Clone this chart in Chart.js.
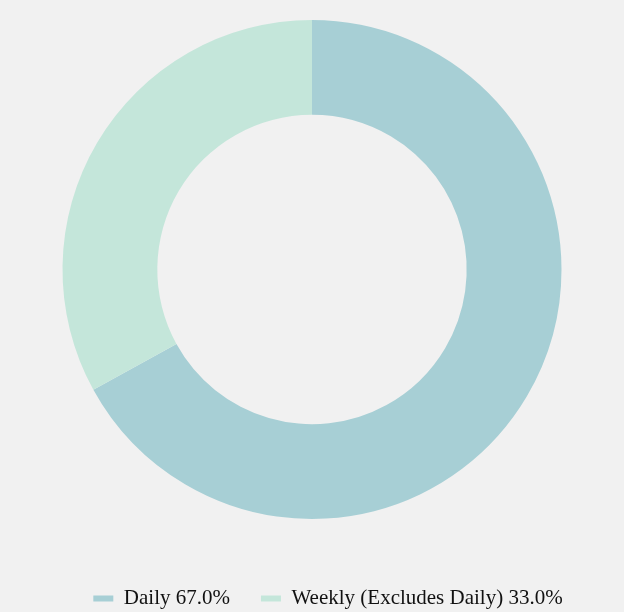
<!DOCTYPE html>
<html>
<head>
<meta charset="utf-8">
<script src="https://cdn.jsdelivr.net/npm/chart.js@4"></script>
<style>
  html, body { margin: 0; padding: 0; background: #f1f1f1; }
  #wrap { width: 624px; height: 612px; }
</style>
</head>
<body>
<div id="wrap"><canvas id="frequencyChart"></canvas></div>
<script>
// Chart data
const categories = ["Daily", "Weekly (Excludes Daily)"];
const shares = [67.0, 33.0];
const sliceColors = ["#a7cfd5", "#c4e6da"];

// nudge the legend row a bit to the right, like the original
const legendShift = {
    id: 'legendShift',
    afterUpdate(chart) {
        if (chart.legend) {
            chart.legend.left += 16;
            chart.legend.right += 16;
        }
    }
};

const ctx = document.getElementById('frequencyChart').getContext('2d');

new Chart(ctx, {
    type: 'doughnut',
    data: {
        labels: categories,
        datasets: [{
            data: shares,
            backgroundColor: sliceColors,
            borderWidth: 0
        }]
    },
    options: {
        responsive: true,
        maintainAspectRatio: false,
        animation: false,
        cutout: '62%',
        layout: {
            padding: { top: 20, bottom: -7 }
        },
        plugins: {
            tooltip: { enabled: false },
            legend: {
                position: 'bottom',
                // empty title used only as vertical spacer above the items
                title: {
                    display: true,
                    text: '',
                    font: { size: 10, lineHeight: 1 },
                    padding: { top: 15, bottom: 13 }
                },
                labels: {
                    color: '#111111',
                    boxWidth: 20,
                    boxHeight: 6,
                    padding: 31,
                    font: {
                        family: '"Liberation Serif", "Times New Roman", serif',
                        size: 21
                    },
                    generateLabels: function(chart) {
                        const ds = chart.data.datasets[0];
                        return chart.data.labels.map((label, i) => ({
                            text: `${label} ${ds.data[i].toFixed(1)}%`,
                            fillStyle: ds.backgroundColor[i],
                            strokeStyle: ds.backgroundColor[i],
                            lineWidth: 0,
                            fontColor: '#111111',
                            index: i
                        }));
                    }
                }
            }
        }
    },
    plugins: [legendShift]
});
</script>
</body>
</html>
